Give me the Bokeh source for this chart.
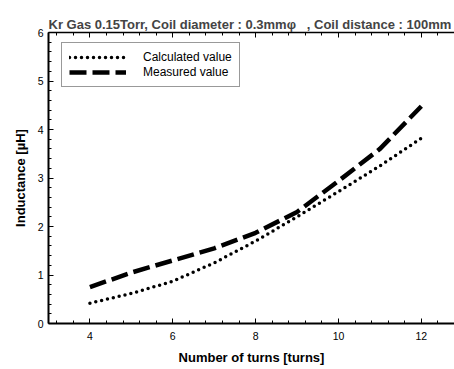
from bokeh.plotting import figure
from bokeh.models import (LinearAxis, SingleIntervalTicker, Range1d, Legend,
                          LegendItem)
from bokeh.embed import file_html
from bokeh.resources import INLINE

# Inductance versus number of coil turns
turns = [4, 5, 6, 7, 8, 9, 10, 11, 12]
calculated = [0.42, 0.62, 0.87, 1.25, 1.70, 2.20, 2.72, 3.25, 3.82]
measured = [0.75, 1.05, 1.30, 1.55, 1.87, 2.30, 2.94, 3.60, 4.48]

title_text = ("Kr Gas 0.15Torr, Coil diameter : 0.3mm\u03c6\u00a0\u00a0\u00a0, "
              "Coil distance : 100mm")
x_label = "Number of turns [turns]"
y_label = "Inductance [\u00b5H]"
series_names = ["Calculated value", "Measured value"]

FONT = "Liberation Sans"

p = figure(width=454, height=369,
           x_range=Range1d(3, 12.8), y_range=Range1d(0, 6),
           output_backend="svg", toolbar_location=None,
           min_border_left=48, min_border_right=0,
           min_border_top=32, min_border_bottom=46)

p.title.text = title_text
p.title.text_font = FONT
p.title.text_font_size = "13px"
p.title.text_font_style = "bold"
p.title.align = "left"
p.title.offset = 0
p.title.standoff = 2

p.xgrid.visible = False
p.ygrid.visible = False
p.outline_line_color = None
p.background_fill_color = "white"
p.border_fill_color = "white"

xticker = SingleIntervalTicker(interval=2, num_minor_ticks=5)
yticker = SingleIntervalTicker(interval=1, num_minor_ticks=5)

def style_axis(ax):
    ax.axis_line_color = "black"
    ax.axis_line_width = 2
    ax.major_tick_in = 5
    ax.major_tick_out = 0
    ax.minor_tick_in = 3
    ax.minor_tick_out = 0
    ax.major_tick_line_color = "black"
    ax.minor_tick_line_color = "black"
    ax.major_label_text_font = FONT
    ax.major_label_text_font_size = "10.5px"
    ax.major_label_text_color = "black"
    ax.axis_label_text_font = FONT
    ax.axis_label_text_font_size = "13px"
    ax.axis_label_text_font_style = "bold"
    ax.axis_label_text_color = "black"

xa = p.xaxis[0]
xa.ticker = xticker
xa.axis_label = x_label
xa.major_label_standoff = 8
xa.axis_label_standoff = 7
style_axis(xa)

ya = p.yaxis[0]
ya.ticker = yticker
ya.axis_label = y_label
ya.major_label_standoff = 5
ya.axis_label_standoff = 7
style_axis(ya)

top = LinearAxis(ticker=xticker,
                 major_label_overrides={t: "" for t in range(0, 16)})
style_axis(top)
top.axis_line_width = 1.5
top.major_label_standoff = 0
p.add_layout(top, "above")

calc_r = p.line(turns, calculated, line_color="black", line_width=3.5,
                line_dash="0 6", line_cap="round")
meas_r = p.line(turns, measured, line_color="black", line_width=4.5,
                line_dash="17 6", line_cap="butt")

legend = Legend(items=[LegendItem(label=series_names[0], renderers=[calc_r]),
                       LegendItem(label=series_names[1], renderers=[meas_r])],
                location=(13, 236))
legend.label_text_font = FONT
legend.label_text_font_size = "12px"
legend.label_text_color = "black"
legend.label_height = 14
legend.glyph_height = 14
legend.glyph_width = 57
legend.label_standoff = 17
legend.spacing = 1
legend.padding = 7
legend.margin = 0
legend.border_line_color = "#333333"
legend.border_line_width = 1
legend.background_fill_alpha = 1
p.add_layout(legend)

open("out.html", "w").write(file_html(p, INLINE))
